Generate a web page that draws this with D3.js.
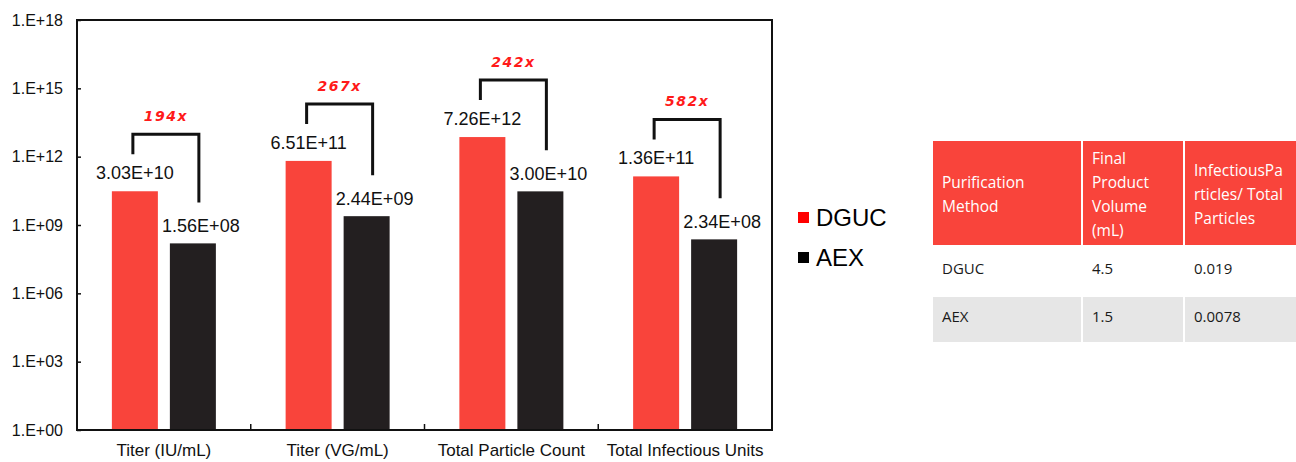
<!DOCTYPE html>
<html>
<head>
<meta charset="utf-8">
<script src="https://cdn.jsdelivr.net/npm/d3@7"></script>
<style>
  body { margin: 0; background: #fff; }
  svg text { font-family: "Liberation Sans", Arial, sans-serif; }
</style>
</head>
<body>
<script>
var categories = ["Titer (IU/mL)", "Titer (VG/mL)", "Total Particle Count", "Total Infectious Units"];
var series = ["DGUC", "AEX"];
var dgucValues = [3.03e10, 6.51e11, 7.26e12, 1.36e11];
var aexValues = [1.56e8, 2.44e9, 3.00e10, 2.34e8];
var dgucLabels = ["3.03E+10", "6.51E+11", "7.26E+12", "1.36E+11"];
var aexLabels = ["1.56E+08", "2.44E+09", "3.00E+10", "2.34E+08"];
var foldLabels = ["194x", "267x", "242x", "582x"];
var yTicks = [1e0, 1e3, 1e6, 1e9, 1e12, 1e15, 1e18];
var yTickLabels = ["1.E+00", "1.E+03", "1.E+06", "1.E+09", "1.E+12", "1.E+15", "1.E+18"];

var tableHeader = [["Purification", "Method"], ["Final", "Product", "Volume", "(mL)"], ["InfectiousPa", "rticles/ Total", "Particles"]];
var tableRows = [["DGUC", "4.5", "0.019"], ["AEX", "1.5", "0.0078"]];

var colors = { DGUC: "#f9443b", AEX: "#231f20" };

var width = 1296, height = 462;
var plot = { left: 77, top: 20, right: 772, bottom: 430 };

var svg = d3.select("body").append("svg")
    .attr("width", width)
    .attr("height", height);

var x = d3.scaleBand()
    .domain(categories)
    .range([plot.left, plot.right]);

var y = d3.scaleLog()
    .domain([1, 1e18])
    .range([plot.bottom, plot.top]);

var barW = 46, gap = 12;

// bars
var groups = svg.selectAll(".cat")
    .data(categories)
  .enter().append("g")
    .attr("class", "cat");

groups.append("rect")
    .attr("x", function(d) { return x(d) + x.bandwidth() / 2 - gap / 2 - barW; })
    .attr("y", function(d, i) { return y(dgucValues[i]); })
    .attr("width", barW)
    .attr("height", function(d, i) { return plot.bottom - y(dgucValues[i]); })
    .attr("fill", colors.DGUC);

groups.append("rect")
    .attr("x", function(d) { return x(d) + x.bandwidth() / 2 + gap / 2; })
    .attr("y", function(d, i) { return y(aexValues[i]); })
    .attr("width", barW)
    .attr("height", function(d, i) { return plot.bottom - y(aexValues[i]); })
    .attr("fill", colors.AEX);

// value labels
groups.append("text")
    .attr("x", function(d) { return x(d) + x.bandwidth() / 2 - gap / 2 - barW / 2; })
    .attr("y", function(d, i) { return y(dgucValues[i]) - 12; })
    .attr("text-anchor", "middle")
    .attr("font-size", 18)
    .attr("fill", "#111")
    .text(function(d, i) { return dgucLabels[i]; });

groups.append("text")
    .attr("x", function(d) { return x(d) + x.bandwidth() / 2 + gap / 2 + barW / 2 + 8; })
    .attr("y", function(d, i) { return y(aexValues[i]) - 11; })
    .attr("text-anchor", "middle")
    .attr("font-size", 18)
    .attr("fill", "#111")
    .text(function(d, i) { return aexLabels[i]; });

// fold-change brackets
groups.append("path")
    .attr("fill", "none")
    .attr("stroke", "#111")
    .attr("stroke-width", 3)
    .attr("d", function(d, i) {
      var cx = x(d) + x.bandwidth() / 2;
      var lx = cx - gap / 2 - barW / 2 - 2;
      var rx = cx + gap / 2 + barW / 2 + 6;
      var top = y(dgucValues[i]) - 57;
      var lb = y(dgucValues[i]) - 37;
      var rb = y(aexValues[i]) - 41;
      return "M" + lx + "," + lb + "V" + top + "H" + rx + "V" + rb;
    });

groups.append("text")
    .attr("x", function(d) { return x(d) + x.bandwidth() / 2 + 2; })
    .attr("y", function(d, i) { return y(dgucValues[i]) - 70; })
    .attr("text-anchor", "middle")
    .attr("fill", "#ff1a1a")
    .attr("font-size", 14)
    .attr("font-weight", "bold")
    .attr("font-style", "italic")
    .attr("letter-spacing", 1.5)
    .style("font-family", "'DejaVu Sans', sans-serif")
    .text(function(d, i) { return foldLabels[i]; });

// axes
var yAxis = d3.axisLeft(y)
    .tickValues(yTicks)
    .tickSize(-4)
    .tickPadding(14)
    .tickFormat(function(d, i) { return yTickLabels[i]; });

var gy = svg.append("g")
    .attr("transform", "translate(" + plot.left + ",0)")
    .call(yAxis);
gy.select(".domain").remove();
gy.selectAll("line").attr("stroke", "#111").attr("stroke-width", 1.5);
gy.selectAll("text").attr("font-size", 16).attr("fill", "#111")
    .style("font-family", "'Liberation Sans', Arial, sans-serif");

var xAxis = d3.axisBottom(x)
    .tickSize(0)
    .tickPadding(14);

var gx = svg.append("g")
    .attr("transform", "translate(0," + plot.bottom + ")")
    .call(xAxis);
gx.select(".domain").remove();
gx.selectAll("text").attr("font-size", 17).attr("fill", "#111")
    .style("font-family", "'Liberation Sans', Arial, sans-serif");

// boundary ticks between categories
svg.selectAll(".xt")
    .data(categories.slice(1))
  .enter().append("line")
    .attr("x1", function(d) { return x(d); })
    .attr("x2", function(d) { return x(d); })
    .attr("y1", plot.bottom)
    .attr("y2", plot.bottom - 6)
    .attr("stroke", "#111")
    .attr("stroke-width", 1.5);

// frame
svg.append("rect")
    .attr("x", plot.left)
    .attr("y", plot.top)
    .attr("width", plot.right - plot.left)
    .attr("height", plot.bottom - plot.top)
    .attr("fill", "none")
    .attr("stroke", "#111")
    .attr("stroke-width", 2);

// legend
var legend = svg.selectAll(".legend")
    .data(series)
  .enter().append("g")
    .attr("transform", function(d, i) { return "translate(798," + (218 + i * 40) + ")"; });

legend.append("rect")
    .attr("x", 0)
    .attr("y", -6)
    .attr("width", 11)
    .attr("height", 11)
    .attr("fill", function(d) { return d === "DGUC" ? "#ff0000" : "#000"; });

legend.append("text")
    .attr("x", 18)
    .attr("y", 8)
    .attr("font-size", 24)
    .attr("fill", "#000")
    .text(function(d) { return d; });

// table
var colX = [933, 1083, 1185];
var colW = [148, 100, 111];
var headerY = 141, headerH = 104;
var rowH = [49, 45];
var rowY = [247, 297];
var tbl = svg.append("g");

tableHeader.forEach(function(lines, c) {
  tbl.append("rect")
      .attr("x", colX[c]).attr("y", headerY)
      .attr("width", colW[c]).attr("height", headerH)
      .attr("fill", "#f9443b");
  var lh = 24;
  var y0 = headerY + headerH / 2 - (lines.length - 1) * lh / 2 + 2;
  lines.forEach(function(t, k) {
    tbl.append("text")
        .attr("x", colX[c] + 9)
        .attr("y", y0 + k * lh)
        .attr("dy", "0.35em")
        .attr("font-size", 15.5)
        .attr("fill", "#fff")
        .style("font-family", "'Open Sans', sans-serif")
        .text(t);
  });
});

tableRows.forEach(function(row, r) {
  row.forEach(function(t, c) {
    tbl.append("rect")
        .attr("x", colX[c]).attr("y", rowY[r])
        .attr("width", colW[c]).attr("height", rowH[r])
        .attr("fill", r === 1 ? "#e6e6e6" : "#fff");
    tbl.append("text")
        .attr("x", colX[c] + 9)
        .attr("y", rowY[r] + rowH[r] / 2 - 3)
        .attr("dy", "0.35em")
        .attr("font-size", 15)
        .attr("fill", "#1a1a1a")
        .style("font-family", "'Open Sans', sans-serif")
        .text(t);
  });
});
</script>
</body>
</html>
